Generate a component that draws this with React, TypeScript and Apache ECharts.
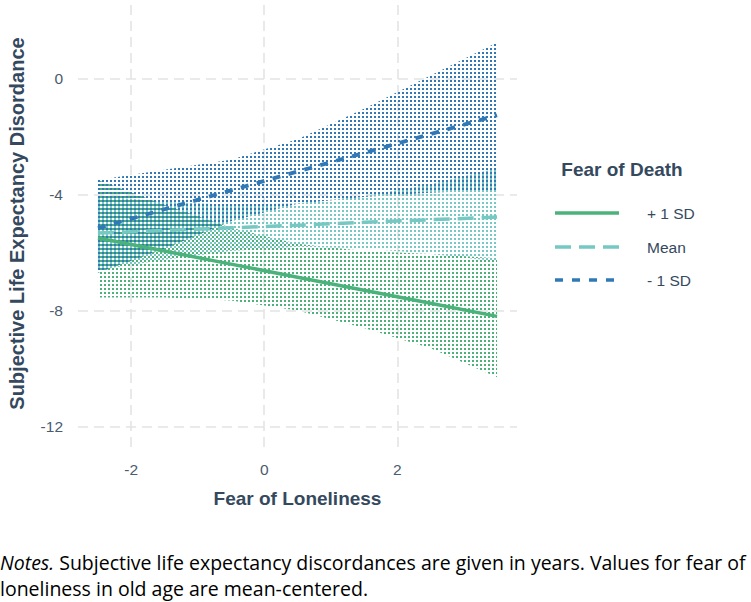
import React, { useEffect, useRef } from 'react';
import * as echarts from 'echarts';

// ---- data ----
const xValues = [-2.5, -1.5, -0.5, 0.5, 1.5, 2.5, 3.5];
const plusLine = [-5.5, -5.95, -6.4, -6.85, -7.3, -7.75, -8.2];
const plusLower = [-7.55, -7.55, -7.65, -8.0, -8.6, -9.3, -10.3];
const plusUpper = [-3.5, -4.35, -5.15, -5.7, -5.95, -6.05, -6.2];
const meanLine = [-5.33, -5.24, -5.15, -5.06, -4.96, -4.87, -4.78];
const meanLower = [-6.6, -6.25, -5.95, -5.8, -5.85, -6.05, -6.3];
const meanUpper = [-4.05, -4.25, -4.35, -4.3, -4.05, -3.65, -3.1];
const minusLine = [-5.16, -4.51, -3.86, -3.21, -2.57, -1.92, -1.27];
const minusLower = [-6.7, -5.87, -4.92, -4.32, -4.09, -3.94, -3.85];
const minusUpper = [-3.5, -3.15, -2.8, -2.1, -1.05, 0.1, 1.24];
const xTicks = [-2, 0, 2];
const yTicks = [-12, -8, -4, 0];
const legendTitle = 'Fear of Death';
const legendLabels = ['+ 1 SD', 'Mean', '- 1 SD'];
const xTitle = 'Fear of Loneliness';
const yTitle = 'Subjective Life Expectancy Disordance';
const noteLine1 = 'Subjective life expectancy discordances are given in years. Values for fear of';
const noteLine2 = 'loneliness in old age are mean-centered.';

const GREEN = '#4CB27B';
const TEAL = '#76C8C2';
const BLUE = '#3079B6';
const TITLE_C = '#34495E';
const TICK_C = '#4B5B70';
const GRID_C = '#E4E4E4';
const FONT = '"Liberation Sans", Arial, sans-serif';
const NOTE_FONT = '"Open Sans", sans-serif';

function dotPattern(color: string, ox: number, oy: number) {
  const c = document.createElement('canvas');
  c.width = 4;
  c.height = 4;
  const ctx = c.getContext('2d')!;
  ctx.fillStyle = color;
  ctx.fillRect(ox, oy, 2, 2);
  return { image: c.toDataURL(), repeat: 'repeat', imageWidth: 4, imageHeight: 4 } as any;
}

function band(lower: number[], upper: number[], color: string, ox: number, oy: number) {
  const fill = dotPattern(color, ox, oy);
  return {
    type: 'custom',
    data: [[xValues[0], lower[0]]],
    silent: true,
    z: 1,
    renderItem: (_params: any, api: any) => {
      const top = xValues.map((x, i) => api.coord([x, upper[i]]));
      const bot = xValues.map((x, i) => api.coord([x, lower[i]])).reverse();
      return {
        type: 'polygon',
        shape: { points: [...top, ...bot] },
        style: { fill, stroke: 'none' },
      };
    },
  };
}

function mainLine(name: string, vals: number[], color: string, type: any, width: number, extra: any = {}) {
  return {
    type: 'line',
    name,
    data: xValues.map((x, i) => [x, vals[i]]),
    symbol: 'none',
    lineStyle: { color, type, width, cap: 'butt' },
    silent: true,
    z: 3,
    ...extra,
  };
}

export default function App() {
  const ref = useRef<HTMLDivElement>(null);
  useEffect(() => {
    const chart = echarts.init(ref.current!, undefined, { renderer: 'svg' });
    const gridLeft = 78;
    const gridRight = 517;
    const gridTop = 0;
    const gridBottom = 447;
    const legendYs = [213, 247, 280];
    const legendColors = [GREEN, TEAL, BLUE];
    const legendDash: any[] = [null, [16, 8], [8, 9]];
    const option: any = {
      animation: false,
      grid: { left: gridLeft, top: gridTop, width: gridRight - gridLeft, height: gridBottom - gridTop, containLabel: false },
      xAxis: {
        type: 'value',
        min: -2.8,
        max: 3.8,
        axisLine: { show: false },
        axisTick: { show: false },
        splitLine: { show: false },
        axisLabel: {
          customValues: xTicks,
          color: TICK_C,
          fontSize: 15.5,
          fontFamily: FONT,
          margin: 14,
        },
      },
      yAxis: {
        type: 'value',
        min: -12.7,
        max: 2.7,
        axisLine: { show: false },
        axisTick: { show: false },
        splitLine: { show: false },
        axisLabel: {
          customValues: yTicks,
          color: TICK_C,
          fontSize: 15.5,
          fontFamily: FONT,
          margin: 15,
        },
      },
      series: [
        band(plusLower, plusUpper, GREEN, 0, 0),
        band(meanLower, meanUpper, TEAL, 2, 2),
        band(minusLower, minusUpper, BLUE, 2, 0),
        mainLine(legendLabels[0], plusLine, GREEN, 'solid', 3.5, {
          markLine: {
            silent: true,
            z: 0,
            symbol: ['none', 'none'],
            label: { show: false },
            lineStyle: { color: GRID_C, type: [10, 6], width: 1.6 },
            data: [...xTicks.map((v) => ({ xAxis: v })), ...yTicks.map((v) => ({ yAxis: v }))],
          },
        }),
        mainLine(legendLabels[1], meanLine, TEAL, [16, 8], 3.5),
        mainLine(legendLabels[2], minusLine, BLUE, [8, 8.5], 3.8),
      ],
      graphic: [
        {
          type: 'text',
          x: (gridLeft + gridRight) / 2,
          y: 498,
          style: { text: xTitle, fontSize: 19, fontWeight: 'bold', fontFamily: FONT, fill: TITLE_C, align: 'center', verticalAlign: 'middle' },
        },
        {
          type: 'text',
          x: 17,
          y: (gridTop + gridBottom) / 2,
          rotation: Math.PI / 2,
          style: { text: yTitle, fontSize: 20, fontWeight: 'bold', fontFamily: FONT, fill: TITLE_C, align: 'center', verticalAlign: 'middle' },
        },
        {
          type: 'text',
          x: 622,
          y: 169,
          style: { text: legendTitle, fontSize: 19, fontWeight: 'bold', fontFamily: FONT, fill: TITLE_C, align: 'center', verticalAlign: 'middle' },
        },
        ...legendLabels.flatMap((lab, i) => [
          {
            type: 'line',
            shape: { x1: 555, y1: legendYs[i], x2: 619, y2: legendYs[i] },
            style: { stroke: legendColors[i], lineWidth: 3.6, lineDash: legendDash[i] || undefined },
          },
          {
            type: 'text',
            x: 647,
            y: legendYs[i],
            style: { text: lab, fontSize: 15.5, fontFamily: FONT, fill: TITLE_C, align: 'left', verticalAlign: 'middle' },
          },
        ]),
        {
          type: 'text',
          x: 0,
          y: 562,
          style: {
            text: '{i|Notes.}{n| ' + noteLine1 + '}',
            rich: {
              i: { fontSize: 19.5, fontFamily: NOTE_FONT, fontStyle: 'italic', fill: '#000' },
              n: { fontSize: 19.5, fontFamily: NOTE_FONT, fill: '#000' },
            },
            fontSize: 19.5,
            fontFamily: NOTE_FONT,
            fill: '#000',
            align: 'left',
            verticalAlign: 'middle',
          },
        },
        {
          type: 'text',
          x: 0,
          y: 588,
          style: { text: noteLine2, fontSize: 19.5, fontFamily: NOTE_FONT, fill: '#000', align: 'left', verticalAlign: 'middle' },
        },
      ],
    };
    chart.setOption(option);
    return () => chart.dispose();
  }, []);
  return <div ref={ref} style={{ position: 'fixed', left: 0, top: 0, width: 751, height: 602, background: '#fff' }} />;
}
